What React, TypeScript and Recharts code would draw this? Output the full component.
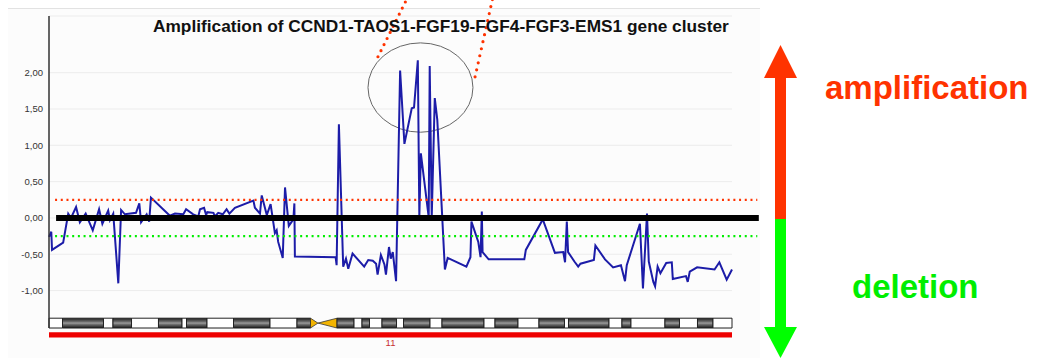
import {
  ComposedChart,
  Line,
  XAxis,
  YAxis,
  CartesianGrid,
  ReferenceLine,
  ReferenceArea,
  Label,
} from 'recharts'

const FONT = '"Liberation Sans", Arial, Helvetica, sans-serif'

const TITLE = 'Amplification of CCND1-TAOS1-FGF19-FGF4-FGF3-EMS1 gene cluster'
const CHROMOSOME = '11'

// probe positions along chromosome 11 (Mb)
const POS_MB = [
  0.0, 0.45, 0.6, 2.8, 3.8, 4.35, 5.35, 6.1, 7.25, 8.65, 9.9, 10.55, 11.7, 12.05, 12.7,
  13.7, 14.25, 15.0, 17.2, 17.85, 18.2, 19.3, 19.8, 20.15, 23.9, 24.9, 26.55, 27.1, 28.5,
  29.5, 29.85, 30.65, 31.05, 31.3, 32.5, 32.8, 33.45, 34.35, 35.1, 35.65, 36.75, 40.4,
  40.7, 41.7, 42.05, 43.05, 43.8, 44.65, 45.0, 45.3, 46.2, 46.65, 47.4, 48.3, 48.5, 48.6,
  56.65, 56.85, 57.3, 58.15, 58.7, 59.15, 60.0, 62.3, 63.1, 64.0, 64.65, 64.95, 65.6,
  66.3, 66.6, 67.2, 67.55, 67.95, 68.6, 69.4, 70.25, 71.7, 72.15, 72.9, 73.2, 73.5, 75.05,
  75.25, 75.65, 76.25, 76.75, 78.25, 78.8, 82.5, 83.3, 83.5, 84.85, 85.3, 85.55, 85.7,
  86.9, 93.95, 94.25, 97.6, 100.0, 101.65, 102.0, 102.35, 102.6, 103.85, 104.6, 105.05,
  107.7, 108.0, 109.9, 111.5, 113.05, 113.85, 114.2, 116.8, 117.4, 118.2, 118.55, 119.45,
  119.8, 120.3, 120.85, 122.0, 123.1, 123.3, 125.9, 126.25, 126.65, 128.1, 131.55, 132.5,
  133.95, 135.0,
]

// log2 ratio per probe
const LOG_RATIO = [
  -0.26, -0.19, -0.44, -0.34, 0.06, 0.0, 0.15, -0.06, 0.06, -0.17, 0.12, -0.08, 0.1, -0.03,
  0.06, -0.9, 0.11, 0.05, 0.07, 0.2, -0.06, 0.05, -0.05, 0.28, 0.03, 0.06, 0.05, 0.12, 0.05,
  0.02, 0.12, 0.14, 0.04, 0.08, 0.07, 0.02, 0.07, 0.05, 0.12, 0.06, 0.14, 0.24, 0.14, 0.06,
  0.31, 0.04, 0.19, -0.21, -0.17, -0.33, -0.55, 0.42, -0.11, -0.02, 0.2, -0.53, -0.54, -0.65,
  1.29, -0.67, -0.56, -0.7, -0.49, -0.67, -0.58, -0.59, -0.63, -0.78, -0.51, -0.64, -0.78,
  -0.4, -0.56, -0.47, -0.87, 2.03, 1.02, 1.51, 1.52, 2.17, 0.01, 0.89, 0.01, 2.09, 0.01,
  1.65, 1.35, -0.71, -0.55, -0.67, -0.54, -0.05, -0.33, -0.54, 0.09, -0.47, -0.57, -0.57,
  -0.44, -0.02, -0.48, -0.47, -0.61, -0.05, -0.47, -0.6, -0.67, -0.63, -0.58, -0.38, -0.57,
  -0.68, -0.65, -0.87, -0.65, -0.08, -0.97, 0.06, -0.6, -0.88, -0.94, -0.67, -0.76, -0.62,
  -0.61, -0.84, -0.8, -0.88, -0.74, -0.68, -0.71, -0.61, -0.85, -0.71,
]

const Y_TICKS = [-1, -0.5, 0, 0.5, 1, 1.5, 2]
const AMP_THRESHOLD = 0.25
const DEL_THRESHOLD = -0.25

// G-band edges (Mb) and staining, chromosome 11 ideogram
const BAND_EDGES = [
  0, 2.67, 10.77, 12.65, 16.31, 21.64, 26.29, 27.18, 31.23, 36.47, 43.68, 49.02, 51.69,
  56.93, 60.29, 61.87, 63.35, 65.82, 68.69, 70.07, 75.31, 77.68, 85.98, 88.16, 92.7, 96.85,
  101.89, 102.68, 110.69, 113.25, 115.03, 121.75, 124.62, 128.18, 131.24, 135,
]
const BAND_STAIN = [
  'neg', 'pos', 'neg', 'pos', 'neg', 'pos', 'neg', 'pos', 'neg', 'pos', 'neg', 'pos', 'acen',
  'pos', 'neg', 'pos', 'neg', 'pos', 'neg', 'pos', 'neg', 'pos', 'neg', 'pos', 'neg', 'pos',
  'neg', 'pos', 'neg', 'pos', 'neg', 'pos', 'neg', 'pos', 'neg',
]

// highlighted FGF cluster region: Mb range and log ratio range
const CLUSTER_MB = [63.05, 83.8]
const CLUSTER_RATIO = [1.18, 2.41]

const X_DOMAIN = [0, 135]
const Y_DOMAIN = [-1.515, 2.78]
const IDEO = [-1.38, -1.515]
const CHR_BAR = [-1.575, -1.645]
const THRESHOLD_SPAN = [1.2, 140.0]
const ZERO_SPAN = [1.4, 140.3]

const data = POS_MB.map((pos, i) => ({ pos, ratio: LOG_RATIO[i] }))
const bands = BAND_STAIN.map((stain, i) => ({ stain, x1: BAND_EDGES[i], x2: BAND_EDGES[i + 1] }))

const fmt = (v: number) => v.toFixed(2).replace('.', ',')

const Centromere = (p: any) => {
  const { x, y, width, height } = p
  const apex = x + width * 0.28
  const mid = y + height / 2
  return (
    <g>
      <polygon points={`${x},${y} ${x},${y + height} ${apex},${mid}`} fill='#f2b400' stroke='#333' strokeWidth={0.8} />
      <polygon
        points={`${x + width},${y} ${x + width},${y + height} ${apex},${mid}`}
        fill='#f2b400'
        stroke='#333'
        strokeWidth={0.8}
      />
    </g>
  )
}

const ClusterRing = (p: any) => {
  const { x, y, width, height } = p
  const rx = width / 2
  const ry = height / 2
  const cx = x + rx
  const cy = y + ry
  const l0 = { x: cx - rx * 0.81, y: cy - ry * 0.69 }
  const r0 = { x: cx + rx * 1.04, y: cy - ry * 0.24 }
  return (
    <g>
      <ellipse cx={cx} cy={cy} rx={rx} ry={ry} fill='none' stroke='#666' strokeWidth={1} />
      <line x1={l0.x} y1={l0.y} x2={l0.x + 30} y2={l0.y - 60} stroke='#ff3300' strokeWidth={3.2} strokeDasharray='0 6.8' strokeLinecap='round' />
      <line x1={r0.x} y1={r0.y} x2={r0.x + 17.5} y2={r0.y - 78} stroke='#ff3300' strokeWidth={3.2} strokeDasharray='0 7.2' strokeLinecap='round' />
    </g>
  )
}

export default function App() {
  return (
    <div style={{ position: 'absolute', left: 0, top: 0, width: 1041, height: 358, background: '#fff', overflow: 'hidden' }}>
      <div
        style={{
          position: 'absolute',
          left: 8,
          top: 8,
          width: 752,
          height: 350,
          background: '#fcfcfc',
          borderTop: '1px solid #e2e2e2',
        }}
      />
      <div style={{ position: 'absolute', left: 0, top: 0 }}>
        <ComposedChart width={1041} height={358} data={data} margin={{ top: 16, right: 309, bottom: 30, left: 9 }}>
          <defs>
            <linearGradient id='gband' x1='0' y1='0' x2='0' y2='1'>
              <stop offset='0' stopColor='#1e1e1e' />
              <stop offset='0.35' stopColor='#6a6a6a' />
              <stop offset='0.5' stopColor='#9a9a9a' />
              <stop offset='0.65' stopColor='#6a6a6a' />
              <stop offset='1' stopColor='#1a1a1a' />
            </linearGradient>
          </defs>
          <CartesianGrid horizontal vertical={false} stroke='#ececec' />
          <XAxis type='number' dataKey='pos' domain={X_DOMAIN} hide />
          <YAxis
            type='number'
            domain={Y_DOMAIN}
            ticks={Y_TICKS}
            tickFormatter={fmt}
            width={40}
            tickLine={false}
            tickSize={4}
            tickMargin={2}
            axisLine={{ stroke: '#333', strokeWidth: 1.5 }}
            tick={{ fontSize: 9.5, fill: '#333', fontFamily: FONT }}
            allowDataOverflow
          />
          {bands.map((b, i) =>
            b.stain === 'acen' ? (
              <ReferenceArea key={i} x1={b.x1} x2={b.x2} y1={IDEO[0]} y2={IDEO[1]} shape={Centromere} ifOverflow='visible' />
            ) : (
              <ReferenceArea
                key={i}
                x1={b.x1}
                x2={b.x2}
                y1={IDEO[0]}
                y2={IDEO[1]}
                fill={b.stain === 'pos' ? 'url(#gband)' : '#ffffff'}
                fillOpacity={1}
                stroke='#222'
                strokeWidth={1}
                ifOverflow='visible'
              />
            ),
          )}
          <ReferenceArea
            x1={X_DOMAIN[0]}
            x2={X_DOMAIN[1]}
            y1={CHR_BAR[0]}
            y2={CHR_BAR[1]}
            fill='#ee0000'
            fillOpacity={1}
            ifOverflow='visible'
          >
            <Label value={CHROMOSOME} position='bottom' offset={2} fill='#c83030' fontSize={9.5} fontFamily={FONT} />
          </ReferenceArea>
          <Line
            type='linear'
            dataKey='ratio'
            stroke='#1c1ca8'
            strokeWidth={2}
            dot={false}
            isAnimationActive={false}
          />
          <ReferenceLine
            segment={[
              { x: THRESHOLD_SPAN[0], y: AMP_THRESHOLD },
              { x: THRESHOLD_SPAN[1], y: AMP_THRESHOLD },
            ]}
            stroke='#ff3300'
            strokeWidth={2.2}
            strokeDasharray='2 3.7'
            ifOverflow='visible'
          />
          <ReferenceLine
            segment={[
              { x: THRESHOLD_SPAN[0], y: DEL_THRESHOLD },
              { x: THRESHOLD_SPAN[1], y: DEL_THRESHOLD },
            ]}
            stroke='#00ee00'
            strokeWidth={2.2}
            strokeDasharray='2 3.7'
            ifOverflow='visible'
          />
          <ReferenceLine
            segment={[
              { x: ZERO_SPAN[0], y: 0 },
              { x: ZERO_SPAN[1], y: 0 },
            ]}
            stroke='#000'
            strokeWidth={6}
            ifOverflow='visible'
          />
          <ReferenceArea
            x1={CLUSTER_MB[0]}
            x2={CLUSTER_MB[1]}
            y1={CLUSTER_RATIO[0]}
            y2={CLUSTER_RATIO[1]}
            shape={ClusterRing}
            ifOverflow='visible'
          />
        </ComposedChart>
      </div>
      <svg width={1041} height={358} style={{ position: 'absolute', left: 0, top: 0, pointerEvents: 'none' }}>
        <text x={153} y={32} fontFamily={FONT} fontWeight='bold' fontSize={17.3} fill='#111'>
          {TITLE}
        </text>
        {/* gain / loss direction arrows */}
        <rect x={775} y={77} width={11} height={142} fill='#ff3300' />
        <polygon points='764,78 797,78 780.5,45' fill='#ff3300' />
        <rect x={775} y={219} width={11} height={109} fill='#00ff00' />
        <polygon points='764,327 797,327 780.5,358' fill='#00ff00' />
        <text x={825} y={99} fontFamily={FONT} fontWeight='bold' fontSize={33} fill='#ff3300'>
          amplification
        </text>
        <text x={852} y={298} fontFamily={FONT} fontWeight='bold' fontSize={33} fill='#00ee00'>
          deletion
        </text>
      </svg>
    </div>
  )
}
